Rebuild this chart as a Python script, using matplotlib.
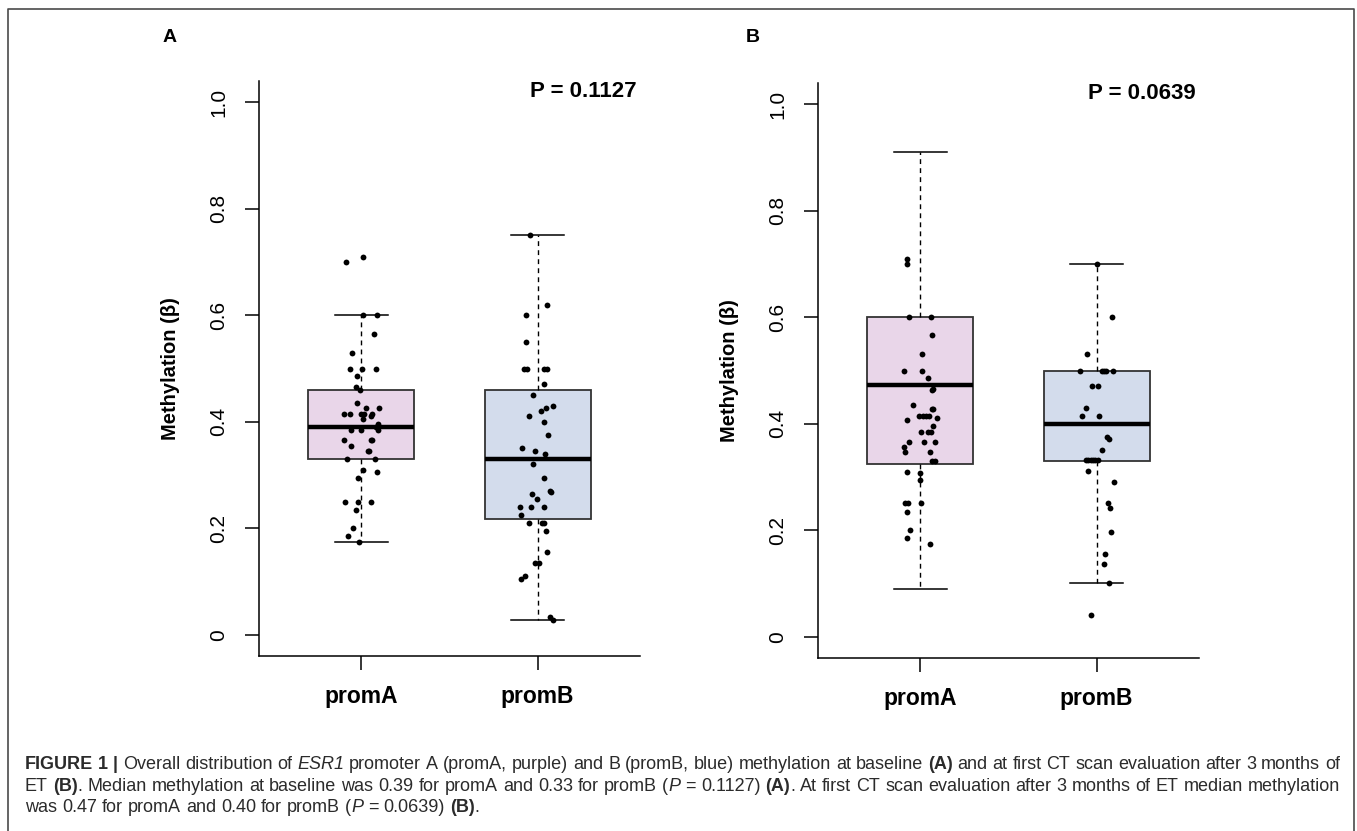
import matplotlib
matplotlib.use('Agg')
import matplotlib.pyplot as plt
from matplotlib.lines import Line2D

FONT = 'Liberation Sans'
plt.rcParams['font.family'] = [FONT, 'DejaVu Sans']

groups = ['promA', 'promB']
box_colors = ['#E9D6E9', '#D3DCEC']

# box statistics (q1, median, q3, whisker ends)
a_q1 = [0.33, 0.218]
a_med = [0.39, 0.33]
a_q3 = [0.46, 0.46]
a_lo = [0.175, 0.028]
a_hi = [0.60, 0.75]

b_q1 = [0.325, 0.33]
b_med = [0.472, 0.40]
b_q3 = [0.60, 0.50]
b_lo = [0.09, 0.10]
b_hi = [0.91, 0.70]

# jittered points (value, horizontal jitter as drawn)
a_promA_vals = [0.70, 0.71, 0.60, 0.60, 0.565, 0.53, 0.50, 0.50, 0.50, 0.485, 0.465, 0.46, 0.435, 0.425, 0.425,
                0.415, 0.415, 0.415, 0.415, 0.415, 0.41, 0.405, 0.395, 0.39, 0.385, 0.385, 0.385, 0.365, 0.365, 0.365,
                0.355, 0.345, 0.345, 0.33, 0.33, 0.31, 0.305, 0.295, 0.25, 0.25, 0.25, 0.235, 0.20, 0.185, 0.175]
a_promA_jit = [-0.088, 0.010, 0.012, 0.090, 0.070, -0.050, -0.064, 0.002, 0.086, -0.023, -0.030, -0.008, -0.026, 0.028, 0.098,
               -0.096, -0.066, -0.002, 0.013, 0.062, 0.057, 0.009, 0.092, 0.085, 0.092, -0.057, 0.000, -0.096, 0.057, 0.060,
               -0.058, 0.038, 0.045, -0.081, 0.079, 0.008, 0.090, -0.021, -0.094, -0.017, 0.057, -0.028, -0.045, -0.074, -0.015]

a_promB_vals = [0.75, 0.62, 0.60, 0.55, 0.50, 0.50, 0.50, 0.50, 0.47, 0.45, 0.43, 0.425, 0.42, 0.41, 0.40,
                0.375, 0.35, 0.345, 0.34, 0.32, 0.295, 0.27, 0.268, 0.265, 0.255, 0.24, 0.24, 0.24, 0.225, 0.21,
                0.21, 0.21, 0.195, 0.155, 0.135, 0.135, 0.11, 0.105, 0.034, 0.028]
a_promB_jit = [-0.045, 0.055, -0.064, -0.064, -0.078, -0.058, 0.033, 0.055, 0.033, -0.024, 0.086, 0.048, 0.018, -0.048, 0.037,
               0.058, -0.090, -0.018, 0.039, -0.024, 0.033, 0.071, 0.076, -0.033, -0.005, -0.099, -0.040, 0.033, -0.094, -0.048,
               0.027, 0.033, 0.046, 0.055, -0.018, 0.008, -0.070, -0.095, 0.070, 0.088]

b_promA_vals = [0.71, 0.70, 0.60, 0.60, 0.566, 0.531, 0.50, 0.50, 0.486, 0.466, 0.463, 0.435, 0.427, 0.427, 0.415,
                0.415, 0.415, 0.415, 0.41, 0.407, 0.395, 0.385, 0.385, 0.385, 0.366, 0.366, 0.366, 0.356, 0.346, 0.346,
                0.33, 0.33, 0.31, 0.308, 0.295, 0.251, 0.251, 0.251, 0.235, 0.201, 0.185, 0.175]
b_promA_jit = [-0.074, -0.074, -0.064, 0.058, 0.064, 0.011, -0.091, 0.011, 0.045, 0.074, 0.064, -0.043, 0.064, 0.074, -0.006,
               0.013, 0.032, 0.051, 0.092, -0.074, 0.074, 0.006, 0.045, 0.058, -0.064, 0.023, 0.083, -0.092, -0.087, 0.055,
               0.064, 0.081, -0.074, 0.000, 0.000, -0.087, -0.068, 0.006, -0.074, -0.060, -0.074, 0.053]

b_promB_vals = [0.70, 0.60, 0.531, 0.50, 0.50, 0.50, 0.50, 0.50, 0.47, 0.47, 0.43, 0.415, 0.415, 0.376, 0.372,
                0.351, 0.331, 0.331, 0.331, 0.331, 0.331, 0.331, 0.311, 0.291, 0.251, 0.241, 0.196, 0.156, 0.136, 0.101,
                0.041]
b_promB_jit = [0.000, 0.084, -0.053, -0.092, 0.030, 0.043, 0.055, 0.091, -0.025, 0.009, -0.060, -0.081, 0.015, 0.057, 0.068,
               0.028, -0.060, -0.047, -0.034, -0.021, -0.008, 0.009, -0.051, 0.098, 0.064, 0.074, 0.081, 0.049, 0.040, 0.072,
               -0.034]

p_values = ['P = 0.1127', 'P = 0.0639']
panel_tags = ['A', 'B']
yticks = [0, 0.2, 0.4, 0.6, 0.8, 1.0]
ytick_labels = ['0', '0.2', '0.4', '0.6', '0.8', '1.0']

caption = [
    [('FIGURE 1 |', 'b'), (' Overall distribution of ', 'n'), ('ESR1', 'i'),
     (' promoter A (promA, purple) and B (promB, blue) methylation at baseline ', 'n'), ('(A)', 'b'),
     (' and at first CT scan evaluation after 3 months of', 'n')],
    [('ET ', 'n'), ('(B)', 'b'), ('. Median methylation at baseline was 0.39 for promA and 0.33 for promB (', 'n'),
     ('P', 'i'), (' = 0.1127) ', 'n'), ('(A)', 'b'),
     ('. At first CT scan evaluation after 3 months of ET median methylation', 'n')],
    [('was 0.47 for promA and 0.40 for promB (', 'n'), ('P', 'i'), (' = 0.0639) ', 'n'), ('(B)', 'b'), ('.', 'n')],
]

W, H = 1357, 831
fig = plt.figure(figsize=(W / 100, H / 100), dpi=100)
fig.patch.set_facecolor('white')

ax_a = fig.add_axes([259 / W, 1 - 656 / H, 381 / W, 575 / H])
ax_b = fig.add_axes([818 / W, 1 - 658 / H, 381 / W, 575 / H])


def draw_panel(ax, q1, med, q3, lo, hi, pts, ptxt):
    stats = []
    for i in range(2):
        stats.append(dict(q1=q1[i], med=med[i], q3=q3[i], whislo=lo[i], whishi=hi[i], fliers=[]))
    bp = ax.bxp(stats, positions=[1, 2], widths=0.6, patch_artist=True, showfliers=False,
                boxprops=dict(edgecolor='#333333', linewidth=1.3),
                medianprops=dict(color='black', linewidth=3.2, solid_capstyle='butt'),
                whiskerprops=dict(color='black', linewidth=1.0, linestyle=(0, (3.5, 3))),
                capprops=dict(color='black', linewidth=1.1))
    for patch, c in zip(bp['boxes'], box_colors):
        patch.set_facecolor(c)
    for i, (vals, jit) in enumerate(pts):
        xs = [i + 1 + j for j in jit]
        ax.plot(xs, vals, 'o', color='black', markersize=4.2, markeredgewidth=0, zorder=5)

    ax.set_xlim(0.42, 2.58)
    ax.set_ylim(-0.04, 1.04)
    ax.set_yticks(yticks)
    ax.set_yticklabels(ytick_labels, rotation=90, va='center', fontsize=15)
    ax.set_xticks([1, 2])
    ax.set_xticklabels(groups, fontsize=16.5, fontweight='bold')
    ax.tick_params(axis='y', length=10, width=1.1, pad=12)
    ax.tick_params(axis='x', length=10, width=1.1, pad=11)
    for s in ['top', 'right']:
        ax.spines[s].set_visible(False)
    for s in ['left', 'bottom']:
        ax.spines[s].set_linewidth(1.1)
    ax.set_ylabel('Methylation (β)', fontsize=14.5, fontweight='bold')
    ax.yaxis.set_label_coords(-0.207, 0.5)
    ax.text(2.56, 1.02, ptxt, ha='right', va='center', fontsize=16, fontweight='bold')


draw_panel(ax_a, a_q1, a_med, a_q3, a_lo, a_hi,
           [(a_promA_vals, a_promA_jit), (a_promB_vals, a_promB_jit)], p_values[0])
draw_panel(ax_b, b_q1, b_med, b_q3, b_lo, b_hi,
           [(b_promA_vals, b_promA_jit), (b_promB_vals, b_promB_jit)], p_values[1])

fig.text(170 / W, 1 - 38 / H, panel_tags[0], ha='center', va='center', fontsize=14, fontweight='bold')
fig.text(753 / W, 1 - 38 / H, panel_tags[1], ha='center', va='center', fontsize=14, fontweight='bold')

# frame around the figure (bottom edge falls outside the crop)
fig.add_artist(Line2D([8 / W, 8 / W, 1354 / W, 1354 / W], [0, 1 - 9 / H, 1 - 9 / H, 0],
                      transform=fig.transFigure, color='#4a4a4a', linewidth=1.2))

# caption with mixed styles, first two lines justified
CAP_SIZE = 13
CAP_COLOR = '#2b2b2b'
STYLES = {'n': {}, 'b': {'fontweight': 'bold'}, 'i': {'fontstyle': 'italic'}}
renderer = fig.canvas.get_renderer()


def twidth(s, st):
    t = fig.text(0, 0, s, fontsize=CAP_SIZE, **STYLES[st])
    w = t.get_window_extent(renderer).width
    t.remove()
    return w


space_w = twidth('a a', 'n') - twidth('aa', 'n')
x0, x1 = 25, 1340
baselines = [769, 791, 812]
for li, runs in enumerate(caption):
    words = [[]]
    for txt, st in runs:
        parts = txt.split(' ')
        for k, p in enumerate(parts):
            if k > 0:
                words.append([])
            if p:
                words[-1].append((p, st))
    words = [w for w in words if w]
    widths = [[twidth(p, st) for p, st in w] for w in words]
    total = sum(sum(ws) for ws in widths)
    if li < 2:
        gap = (x1 - x0 - total) / (len(words) - 1)
    else:
        gap = space_w
    x = x0
    for w, ws in zip(words, widths):
        for (p, st), pw in zip(w, ws):
            fig.text(x / W, 1 - baselines[li] / H, p, fontsize=CAP_SIZE, color=CAP_COLOR,
                     va='baseline', ha='left', **STYLES[st])
            x += pw
        x += gap

fig.savefig('out.png', dpi=100)
